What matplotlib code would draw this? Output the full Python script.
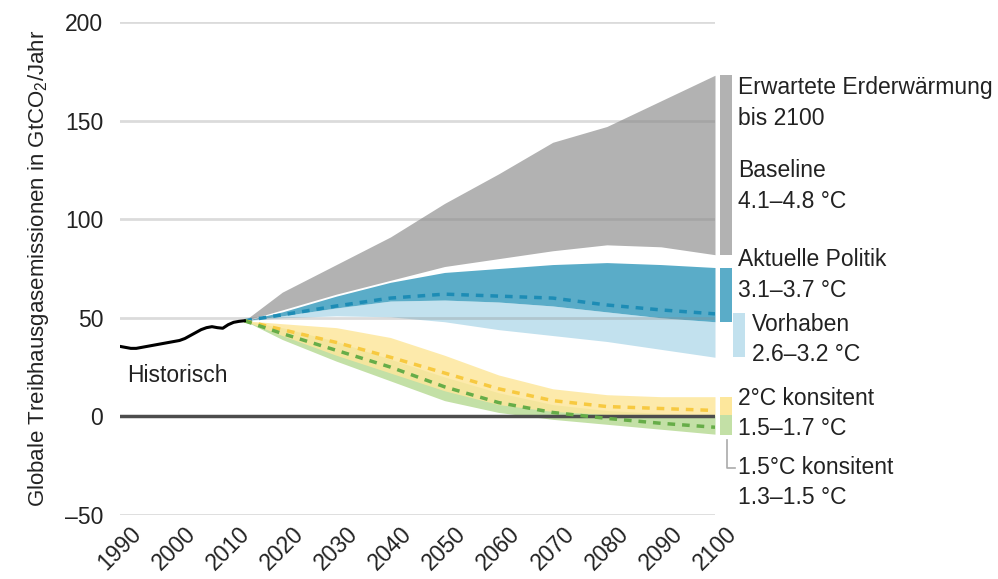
import numpy as np
import matplotlib
matplotlib.use('Agg')
import matplotlib.pyplot as plt

plt.rcParams['font.family'] = ['Liberation Sans', 'DejaVu Sans']
plt.rcParams['mathtext.fontset'] = 'custom'
plt.rcParams['mathtext.rm'] = 'Liberation Sans'
plt.rcParams['mathtext.it'] = 'Liberation Sans'

# historical emissions
hist_years = [1990, 1991, 1992, 1993, 1994, 1995, 1996, 1997, 1998, 1999, 2000, 2001,
              2002, 2003, 2004, 2005, 2006, 2007, 2008, 2009, 2010, 2011, 2012, 2013]
hist_vals = [35.5, 35.0, 34.5, 34.5, 35.0, 35.5, 36.0, 36.5, 37.0, 37.5, 38.0, 38.5,
             39.5, 41.0, 42.5, 44.0, 45.0, 45.5, 45.0, 44.7, 46.5, 47.7, 48.2, 48.5]

# scenario years
years = [2013, 2020, 2030, 2040, 2050, 2060, 2070, 2080, 2090, 2100]

base_hi = [48.5, 63, 77, 91, 108, 123, 139, 147, 160, 173]
base_lo = [48.5, 54, 62, 69, 76, 80, 84, 87, 86, 82]

pol_hi = [48.5, 53, 61, 68, 73, 75, 77, 78, 77, 75.5]
pol_lo = [48.5, 51, 55, 58.5, 59, 58, 56, 53, 50, 48]
pol_mid = [48.5, 51.5, 56, 60, 62, 61, 60, 56.5, 54, 52]

plan_hi = [48.5, 51, 55, 58.5, 59, 58, 56, 53, 50, 48]
plan_lo = [48.5, 50, 51, 50.5, 48, 44, 41, 38, 34, 30]

two_hi = [48.5, 47, 45, 40, 31, 21, 14, 11, 10, 10]
two_lo = [48.5, 41, 31, 22, 13, 6, 2.5, 1, 0.5, 0.5]
two_mid = [48.5, 44, 37.5, 30, 22, 14, 8, 5, 4, 3]

one5_hi = [48.5, 45, 38, 29, 20, 12, 6, 3, 1.5, 0.5]
one5_lo = [48.5, 39, 28, 18, 8, 2, -1.5, -4, -6.5, -9]
one5_mid = [48.5, 42, 33.5, 25, 15, 7, 2, -1, -3.5, -5.5]

# ranges shown as bars at the right edge (2100)
bar_ranges = {
    'base': (82, 173),
    'pol': (48, 75.5),
    'plan': (30, 52.5),
    'two': (0.5, 10),
    'one5': (-9.5, 0.5),
}

GRAY = '#b2b2b2'
DBLUE = '#5aacc8'
LBLUE = '#c2e1ee'
BLUE_D = '#1d8cb5'
YELLOW = '#fde79c'
YELLOW_D = '#f7c940'
GREEN = '#c3e0a6'
GREEN_D = '#66ad48'
TXT = '#222222'

fig = plt.figure(figsize=(9.98, 5.79), dpi=100)
ax = fig.add_axes([120 / 998, 1 - 515 / 579, 595 / 998, 493 / 579])

ax.set_xlim(1990, 2100)
ax.set_ylim(-50, 200)

for g in [-50, 50, 100, 150, 200]:
    ax.axhline(g, color='#8a8a8a', alpha=0.3, lw=2, zorder=5)
ax.axhline(0, color='#4d4d4d', lw=2.5, zorder=6)

ax.fill_between(years, base_lo, base_hi, color=GRAY, lw=0, zorder=1)
ax.fill_between(years, plan_lo, plan_hi, color=LBLUE, lw=0, zorder=2)
ax.fill_between(years, pol_lo, pol_hi, color=DBLUE, lw=0, zorder=2)
ax.fill_between(years, one5_lo, one5_hi, color=GREEN, lw=0, zorder=2)
ax.fill_between(years, two_lo, two_hi, color=YELLOW, lw=0, alpha=0.85, zorder=3)

ax.plot(years, pol_mid, color=BLUE_D, lw=2.5, ls=(0, (2.2, 2)), zorder=7)
ax.plot(years, two_mid, color=YELLOW_D, lw=2.5, ls=(0, (2.2, 2)), zorder=7)
ax.plot(years, one5_mid, color=GREEN_D, lw=2.5, ls=(0, (2.2, 2)), zorder=7)

ax.plot(hist_years, hist_vals, color='black', lw=2.2, zorder=8)

# bars at the right
bx = 2102.1
bw = 2.2
for key, col, xx in [('base', GRAY, bx), ('pol', DBLUE, bx), ('plan', LBLUE, bx + 2.4),
                     ('two', YELLOW, bx), ('one5', GREEN, bx)]:
    lo, hi = bar_ranges[key]
    ax.bar(xx, hi - lo, bottom=lo, width=bw, color=col, lw=0, clip_on=False, zorder=4)

ax.plot([2102.2, 2102.2, 2103.7], [-12, -26, -26], color='#aaaaaa', lw=1.2, clip_on=False)

fs = 16.5
tx = 2104.2
labels = [
    (tx, 166.8, 'Erwartete Erderwärmung'),
    (tx, 151.0, 'bis 2100'),
    (tx, 124.7, 'Baseline'),
    (tx, 109.0, '4.1–4.8 °C'),
    (tx, 79.6, 'Aktuelle Politik'),
    (tx, 63.9, '3.1–3.7 °C'),
    (2106.8, 46.7, 'Vorhaben'),
    (2106.8, 31.4, '2.6–3.2 °C'),
    (tx, 9.1, '2°C konsitent'),
    (tx, -6.1, '1.5–1.7 °C'),
    (tx, -25.9, '1.5°C konsitent'),
    (tx, -41.1, '1.3–1.5 °C'),
]
for x, y, s in labels:
    ax.text(x, y, s, fontsize=fs, color=TXT, ha='left', va='center', clip_on=False)

ax.text(1991.3, 20.8, 'Historisch', fontsize=fs, color=TXT, ha='left', va='center')

ax.set_yticks([-50, 0, 50, 100, 150, 200])
ax.set_yticklabels(['–50', '0', '50', '100', '150', '200'])
ax.set_xticks(range(1990, 2101, 10))
ax.tick_params(axis='both', length=0, labelsize=fs, labelcolor=TXT)
ax.tick_params(axis='y', pad=12)
ax.tick_params(axis='x', pad=5)
for lab in ax.get_xticklabels():
    lab.set_rotation(45)
    lab.set_ha('center')
    lab.set_va('top')

ax.set_ylabel('Globale Treibhausgasemissionen in GtCO$_2$/Jahr', fontsize=16, color=TXT, labelpad=10)

for sp in ax.spines.values():
    sp.set_visible(False)

fig.savefig('out.png', dpi=100)
